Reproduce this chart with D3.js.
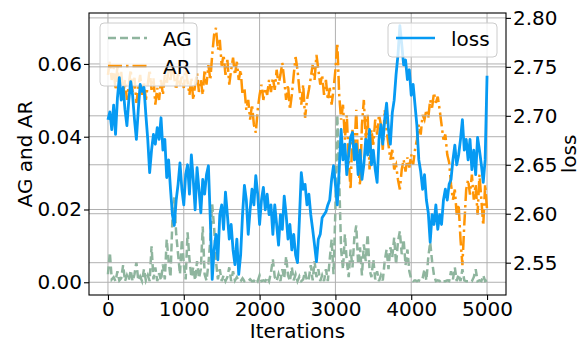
<!DOCTYPE html>
<html>
<head>
<meta charset="utf-8">
<script src="https://cdn.jsdelivr.net/npm/d3@7"></script>
<style>
  body { margin: 0; background: #fff; }
  svg { display: block; font-family: "DejaVu Sans", sans-serif; }
</style>
</head>
<body>
<div id="chart"></div>
<script>
const step = 25;

const agValues = [
  0.0022, 0.0082, 0.0008, 0.0014, 0.0003, 0.0030, 0.0005, 0.0011, 0.0047, 0.0003,
  0.0019, 0.0005, 0.0033, 0.0003, 0.0022, 0.0055, 0.0005, 0.0016, 0.0003, 0.0036,
  0.0005, 0.0019, 0.0003, 0.0099, 0.0008, 0.0041, 0.0003, 0.0025, 0.0005, 0.0049,
  0.0008, 0.0118, 0.0058, 0.0014, 0.0173, 0.0233, 0.0132, 0.0077, 0.0022, 0.0118,
  0.0049, 0.0008, 0.0137, 0.0063, 0.0014, 0.0041, 0.0005, 0.0058, 0.0011, 0.0036,
  0.0153, 0.0022, 0.0005, 0.0049, 0.0118, 0.0214, 0.0151, 0.0058, 0.0008, 0.0036,
  0.0003, 0.0019, 0.0003, 0.0014, 0.0041, 0.0003, 0.0030, 0.0005, 0.0014, 0.0003,
  0.0003, 0.0011, 0.0003, 0.0005, 0.0003, 0.0008, 0.0003, 0.0003, 0.0011, 0.0003,
  0.0019, 0.0003, 0.0005, 0.0003, 0.0014, 0.0003, 0.0027, 0.0063, 0.0014, 0.0003,
  0.0022, 0.0003, 0.0036, 0.0011, 0.0071, 0.0019, 0.0003, 0.0041, 0.0005, 0.0022,
  0.0003, 0.0016, 0.0003, 0.0008, 0.0030, 0.0003, 0.0011, 0.0047, 0.0005, 0.0058,
  0.0014, 0.0036, 0.0003, 0.0019, 0.0003, 0.0036, 0.0003, 0.0063, 0.0118, 0.0022,
  0.0200, 0.0460, 0.0282, 0.0090, 0.0036, 0.0132, 0.0058, 0.0014, 0.0090, 0.0041,
  0.0123, 0.0156, 0.0049, 0.0096, 0.0019, 0.0104, 0.0058, 0.0132, 0.0036, 0.0014,
  0.0063, 0.0008, 0.0030, 0.0003, 0.0019, 0.0005, 0.0058, 0.0090, 0.0036, 0.0096,
  0.0069, 0.0123, 0.0049, 0.0112, 0.0140, 0.0077, 0.0118, 0.0047, 0.0090, 0.0030,
  0.0008, 0.0003, 0.0005, 0.0003, 0.0005, 0.0003, 0.0011, 0.0036, 0.0005, 0.0069,
  0.0110, 0.0058, 0.0019, 0.0003, 0.0005, 0.0003, 0.0008, 0.0003, 0.0003, 0.0005,
  0.0003, 0.0030, 0.0008, 0.0041, 0.0003, 0.0022, 0.0003, 0.0036, 0.0005, 0.0003,
  0.0003, 0.0005, 0.0003, 0.0014, 0.0036, 0.0003, 0.0005, 0.0003, 0.0019, 0.0003,
  0.0005
];

const arValues = [
  0.0570, 0.0606, 0.0556, 0.0589, 0.0529, 0.0597, 0.0543, 0.0578, 0.0515, 0.0556,
  0.0501, 0.0543, 0.0584, 0.0523, 0.0562, 0.0493, 0.0534, 0.0570, 0.0515, 0.0551,
  0.0501, 0.0543, 0.0584, 0.0529, 0.0562, 0.0488, 0.0534, 0.0501, 0.0556, 0.0515,
  0.0570, 0.0543, 0.0589, 0.0556, 0.0603, 0.0562, 0.0529, 0.0578, 0.0540, 0.0570,
  0.0534, 0.0584, 0.0551, 0.0515, 0.0562, 0.0501, 0.0543, 0.0575, 0.0523, 0.0556,
  0.0515, 0.0584, 0.0543, 0.0597, 0.0556, 0.0625, 0.0680, 0.0699, 0.0638, 0.0666,
  0.0595, 0.0625, 0.0570, 0.0611, 0.0543, 0.0584, 0.0617, 0.0570, 0.0606, 0.0556,
  0.0584, 0.0515, 0.0534, 0.0474, 0.0501, 0.0447, 0.0488, 0.0433, 0.0411, 0.0474,
  0.0515, 0.0543, 0.0501, 0.0534, 0.0515, 0.0556, 0.0523, 0.0562, 0.0529, 0.0584,
  0.0543, 0.0570, 0.0603, 0.0556, 0.0501, 0.0543, 0.0474, 0.0515, 0.0570, 0.0619,
  0.0584, 0.0529, 0.0488, 0.0543, 0.0452, 0.0501, 0.0529, 0.0562, 0.0597, 0.0556,
  0.0625, 0.0584, 0.0543, 0.0570, 0.0515, 0.0556, 0.0501, 0.0534, 0.0488, 0.0529,
  0.0584, 0.0658, 0.0515, 0.0447, 0.0488, 0.0392, 0.0460, 0.0337, 0.0255, 0.0419,
  0.0364, 0.0474, 0.0323, 0.0266, 0.0433, 0.0501, 0.0392, 0.0460, 0.0310, 0.0419,
  0.0378, 0.0447, 0.0406, 0.0460, 0.0433, 0.0364, 0.0474, 0.0419, 0.0378, 0.0337,
  0.0364, 0.0310, 0.0323, 0.0282, 0.0255, 0.0310, 0.0337, 0.0304, 0.0343, 0.0315,
  0.0351, 0.0323, 0.0364, 0.0392, 0.0433, 0.0406, 0.0460, 0.0447, 0.0474, 0.0452,
  0.0501, 0.0480, 0.0521, 0.0493, 0.0510, 0.0474, 0.0433, 0.0392, 0.0406, 0.0351,
  0.0329, 0.0269, 0.0227, 0.0255, 0.0186, 0.0214, 0.0118, 0.0047, 0.0159, 0.0255,
  0.0282, 0.0241, 0.0296, 0.0227, 0.0269, 0.0186, 0.0296, 0.0227, 0.0156, 0.0269,
  0.0200
];

const lossValues = [
  2.696, 2.704, 2.686, 2.711, 2.681, 2.718, 2.739, 2.716, 2.729, 2.706,
  2.690, 2.716, 2.735, 2.721, 2.696, 2.676, 2.706, 2.732, 2.725, 2.729,
  2.701, 2.676, 2.642, 2.665, 2.681, 2.671, 2.688, 2.676, 2.698, 2.665,
  2.676, 2.637, 2.655, 2.625, 2.599, 2.588, 2.614, 2.630, 2.652, 2.625,
  2.609, 2.640, 2.650, 2.620, 2.660, 2.635, 2.604, 2.647, 2.625, 2.601,
  2.635, 2.620, 2.640, 2.649, 2.594, 2.533, 2.563, 2.579, 2.553, 2.599,
  2.609, 2.584, 2.622, 2.599, 2.574, 2.589, 2.563, 2.548, 2.574, 2.538,
  2.558, 2.599, 2.629, 2.614, 2.579, 2.604, 2.625, 2.609, 2.639, 2.620,
  2.589, 2.614, 2.627, 2.604, 2.620, 2.599, 2.609, 2.579, 2.609, 2.589,
  2.568, 2.599, 2.584, 2.618, 2.599, 2.574, 2.589, 2.563, 2.579, 2.558,
  2.550, 2.594, 2.642, 2.625, 2.630, 2.609, 2.620, 2.599, 2.584, 2.568,
  2.551, 2.574, 2.579, 2.596, 2.599, 2.602, 2.609, 2.614, 2.635, 2.649,
  2.630, 2.609, 2.645, 2.686, 2.655, 2.671, 2.640, 2.660, 2.678, 2.683,
  2.655, 2.671, 2.640, 2.665, 2.635, 2.650, 2.676, 2.660, 2.686, 2.650,
  2.665, 2.645, 2.632, 2.676, 2.691, 2.671, 2.696, 2.713, 2.686, 2.671,
  2.703, 2.716, 2.742, 2.762, 2.792, 2.773, 2.752, 2.757, 2.737, 2.747,
  2.721, 2.732, 2.711, 2.690, 2.655, 2.643, 2.625, 2.640, 2.614, 2.601,
  2.571, 2.599, 2.589, 2.609, 2.584, 2.599, 2.589, 2.614, 2.625, 2.614,
  2.630, 2.635, 2.655, 2.670, 2.650, 2.660, 2.676, 2.696, 2.665, 2.676,
  2.655, 2.676, 2.645, 2.665, 2.640, 2.678, 2.665, 2.650, 2.632, 2.655,
  2.741
];

const xTicks = [0, 1000, 2000, 3000, 4000, 5000];
const leftTicks = [0, 0.02, 0.04, 0.06];
const rightTicks = [2.55, 2.60, 2.65, 2.70, 2.75, 2.80];

const W = 581, H = 343;
const plotL = 89, plotR = 506, plotT = 13, plotB = 295;
const fontSize = 20;
const colAG = '#8fb59e', colAR = '#ff9505', colLoss = '#069af3';

const svg = d3.select('#chart').append('svg').attr('width', W).attr('height', H);

const x = d3.scaleLinear().domain([-250, 5250]).range([plotL, plotR]);
const yL = d3.scaleLinear().domain([-0.0035, 0.074]).range([plotB, plotT]);
const yR = d3.scaleLinear().domain([2.517, 2.805]).range([plotB, plotT]);

svg.append('defs').append('clipPath').attr('id', 'plot')
  .append('rect').attr('x', plotL).attr('y', plotT).attr('width', plotR - plotL).attr('height', plotB - plotT);

const gridStyle = (sel) => sel.attr('stroke', '#b0b0b0').attr('stroke-width', 1).attr('fill', 'none');

// grid of the left axis (x and AG/AR)
const g1 = svg.append('g');
g1.selectAll('.vg').data(xTicks).join('line').attr('class', 'vg')
  .attr('x1', (d) => x(d)).attr('x2', (d) => x(d)).attr('y1', plotT).attr('y2', plotB).call(gridStyle);
g1.selectAll('.hg').data(leftTicks).join('line').attr('class', 'hg')
  .attr('x1', plotL).attr('x2', plotR).attr('y1', (d) => yL(d)).attr('y2', (d) => yL(d)).call(gridStyle);

const it = (i) => i * step;
const lineL = d3.line().x((d, i) => x(it(i))).y((d) => yL(d));
const lineR = d3.line().x((d, i) => x(it(i))).y((d) => yR(d));

const plot1 = svg.append('g').attr('clip-path', 'url(#plot)');
plot1.append('path').datum(agValues).attr('d', lineL)
  .attr('fill', 'none').attr('stroke', colAG).attr('stroke-width', 2.5).attr('stroke-dasharray', '8,4');
plot1.append('path').datum(arValues).attr('d', lineL)
  .attr('fill', 'none').attr('stroke', colAR).attr('stroke-width', 2.5).attr('stroke-dasharray', '14,4,2.5,4');

function legend(items, bx, by, bw, bh) {
  const g = svg.append('g');
  g.append('rect').attr('x', bx).attr('y', by).attr('width', bw).attr('height', bh)
    .attr('rx', 4).attr('fill', 'white').attr('fill-opacity', 0.8).attr('stroke', '#cccccc').attr('stroke-width', 1);
  items.forEach((d, i) => {
    const cy = by + 15 + i * 28;
    g.append('line').attr('x1', bx + 8).attr('x2', bx + 47).attr('y1', cy).attr('y2', cy)
      .attr('stroke', d.color).attr('stroke-width', 2.5).attr('stroke-dasharray', d.dash || null);
    g.append('text').attr('x', bx + 63).attr('y', cy + 7.5).attr('font-size', fontSize).text(d.label);
  });
}

legend([{ label: 'AG', color: colAG, dash: '8,4' }, { label: 'AR', color: colAR, dash: '14,4,2.5,4' }], 100, 23, 97, 63);

// twin axis: grid and loss
const g2 = svg.append('g');
g2.selectAll('.hg2').data(rightTicks).join('line').attr('class', 'hg2')
  .attr('x1', plotL).attr('x2', plotR).attr('y1', (d) => yR(d)).attr('y2', (d) => yR(d)).call(gridStyle);

svg.append('g').attr('clip-path', 'url(#plot)').append('path').datum(lossValues).attr('d', lineR)
  .attr('fill', 'none').attr('stroke', colLoss).attr('stroke-width', 2.8).attr('stroke-linejoin', 'round');

legend([{ label: 'loss', color: colLoss }], 388, 23, 109, 34);

// spines
svg.append('rect').attr('x', plotL).attr('y', plotT).attr('width', plotR - plotL).attr('height', plotB - plotT)
  .attr('fill', 'none').attr('stroke', 'black').attr('stroke-width', 1.1);

const styleAxis = (g) => {
  g.select('.domain').remove();
  g.selectAll('.tick line').attr('stroke', 'black').attr('stroke-width', 1.1);
  g.selectAll('.tick text').attr('font-size', fontSize).attr('font-family', '"DejaVu Sans", sans-serif').attr('fill', 'black');
};

svg.append('g').attr('transform', `translate(0,${plotB})`)
  .call(d3.axisBottom(x).tickValues(xTicks).tickSize(5).tickPadding(2).tickFormat(d3.format('d')))
  .call(styleAxis);
svg.append('g').attr('transform', `translate(${plotL},0)`)
  .call(d3.axisLeft(yL).tickValues(leftTicks).tickSize(5).tickPadding(2).tickFormat(d3.format('.2f')))
  .call(styleAxis);
svg.append('g').attr('transform', `translate(${plotR},0)`)
  .call(d3.axisRight(yR).tickValues(rightTicks).tickSize(5).tickPadding(2).tickFormat(d3.format('.2f')))
  .call(styleAxis);

// axis titles
svg.append('text').attr('x', (plotL + plotR) / 2).attr('y', 338).attr('text-anchor', 'middle')
  .attr('font-size', fontSize).text('Iterations');
svg.append('text').attr('transform', `translate(32,${(plotT + plotB) / 2}) rotate(-90)`).attr('text-anchor', 'middle')
  .attr('font-size', fontSize).text('AG and AR');
svg.append('text').attr('transform', `translate(576,${(plotT + plotB) / 2}) rotate(-90)`).attr('text-anchor', 'middle')
  .attr('font-size', fontSize).text('loss');
</script>
</body>
</html>
